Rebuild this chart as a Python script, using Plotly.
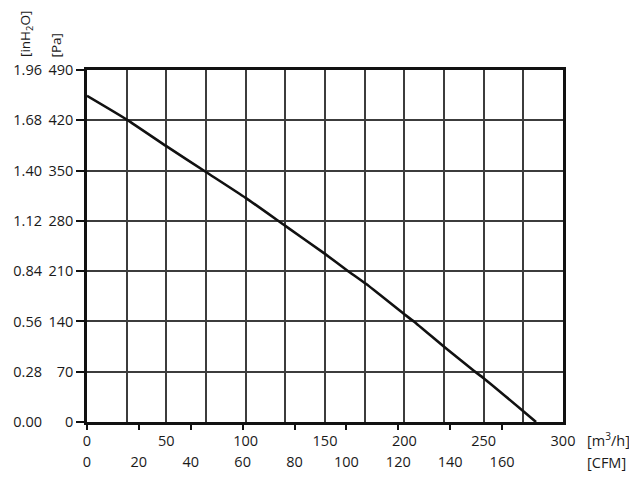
import plotly.graph_objects as go

# fan curve
flow_m3h = [0, 25, 50, 75, 100, 125, 150, 164, 176, 200, 206, 226, 244, 250, 275, 283]
pressure_pa = [454, 421, 384, 348, 312, 273, 234, 211, 192, 150, 140, 103, 71, 61, 15, 0]

# axis ticks
pa_ticks = [0, 70, 140, 210, 280, 350, 420, 490]
inh2o_ticks = [0.00, 0.28, 0.56, 0.84, 1.12, 1.40, 1.68, 1.96]
m3h_ticks = [0, 25, 50, 75, 100, 125, 150, 175, 200, 225, 250, 275, 300]
m3h_labels = ['0', '', '50', '', '100', '', '150', '', '200', '', '250', '', '300']
cfm_ticks = [0, 20, 40, 60, 80, 100, 120, 140, 160]

font = dict(family='Open Sans', size=14.5, color='#1a1a1a')
title_font = dict(family='Open Sans', size=13.5, color='#1a1a1a')
grid = '#3c3c3c'

fig = go.Figure()
fig.add_trace(go.Scatter(x=flow_m3h, y=pressure_pa, mode='lines',
                         line=dict(color='#111111', width=2.6,
                                   shape='spline', smoothing=0.5),
                         showlegend=False, hoverinfo='skip'))
# dummy trace so the secondary axes get drawn
fig.add_trace(go.Scatter(x=[0], y=[0], xaxis='x2', yaxis='y2', mode='markers',
                         marker=dict(opacity=0), showlegend=False, hoverinfo='skip'))

# page body adds ~8px on top/left, so the figure is a bit smaller
fig.update_layout(
    width=629, height=472,
    margin=dict(l=79, r=74, t=62, b=58),
    paper_bgcolor='white', plot_bgcolor='white',
    font=font,
    xaxis=dict(range=[0, 300], tickvals=m3h_ticks, ticktext=m3h_labels,
               ticks='', showgrid=True, gridcolor=grid, gridwidth=1.6,
               zeroline=False, showline=True, mirror=True, automargin=False,
               linecolor='#111111', linewidth=2.6, ticklabelstandoff=4),
    xaxis2=dict(range=[0, 183.5], overlaying='x', side='bottom', anchor='y',
                tickvals=cfm_ticks, ticks='outside', ticklen=7, tickwidth=2.2,
                tickcolor='#111111', showgrid=False, zeroline=False,
                showline=False, automargin=False, ticklabelstandoff=20),
    yaxis=dict(range=[0, 490], tickvals=pa_ticks, ticks='outside', ticklen=8,
               tickwidth=2.2, tickcolor='#111111', showgrid=True,
               gridcolor=grid, gridwidth=1.6, zeroline=False, showline=True,
               mirror=True, linecolor='#111111', linewidth=2.6,
               automargin=False, ticklabelstandoff=0),
    yaxis2=dict(range=[0, 1.96], overlaying='y', side='left', anchor='x',
                tickvals=inh2o_ticks,
                ticktext=['%.2f' % v for v in inh2o_ticks],
                ticks='', showgrid=False, zeroline=False, showline=False,
                automargin=False, ticklabelstandoff=44),
    annotations=[
        dict(text='[m<sup>3</sup>/h]', xref='paper', yref='paper',
             x=1.046, y=-0.051, xanchor='left', yanchor='middle',
             showarrow=False, font=font),
        dict(text='[CFM]', xref='paper', yref='paper',
             x=1.046, y=-0.114, xanchor='left', yanchor='middle',
             showarrow=False, font=font),
        dict(text='[inH<sub>2</sub>O]', xref='paper', yref='paper',
             x=-0.127, y=1.03, xanchor='center', yanchor='bottom',
             textangle=-90, showarrow=False, font=title_font),
        dict(text='[Pa]', xref='paper', yref='paper',
             x=-0.065, y=1.03, xanchor='center', yanchor='bottom',
             textangle=-90, showarrow=False, font=title_font),
    ],
)

fig.write_html("out.html")
